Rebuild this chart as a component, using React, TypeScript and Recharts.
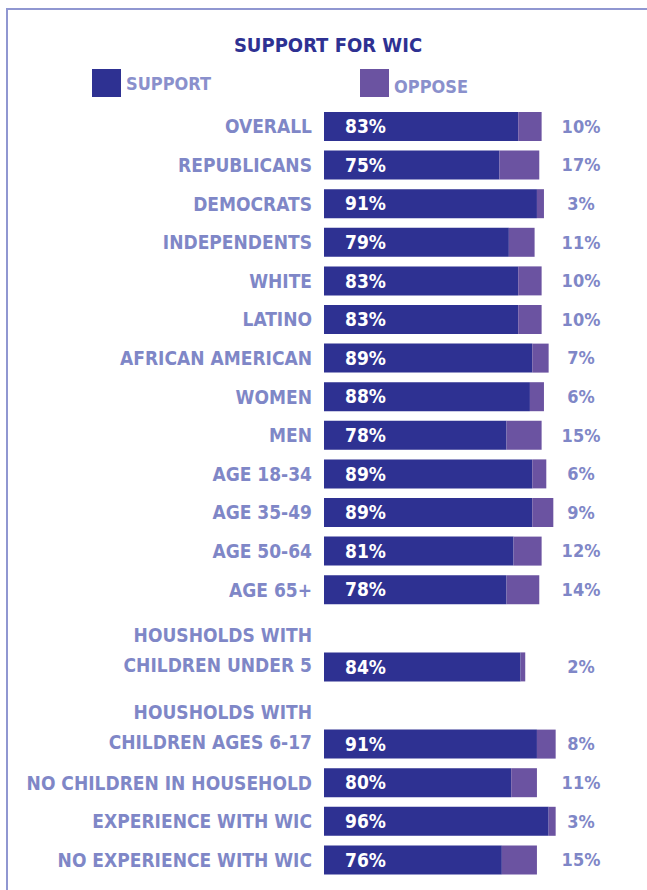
import React from "react";
import { BarChart, Bar, XAxis, YAxis, LabelList, Legend } from "recharts";

const categories = [
  "OVERALL",
  "REPUBLICANS",
  "DEMOCRATS",
  "INDEPENDENTS",
  "WHITE",
  "LATINO",
  "AFRICAN AMERICAN",
  "WOMEN",
  "MEN",
  "AGE 18-34",
  "AGE 35-49",
  "AGE 50-64",
  "AGE 65+",
  "HOUSHOLDS WITH\nCHILDREN UNDER 5",
  "HOUSHOLDS WITH\nCHILDREN AGES 6-17",
  "NO CHILDREN IN HOUSEHOLD",
  "EXPERIENCE WITH WIC",
  "NO EXPERIENCE WITH WIC",
];
const support = [83, 75, 91, 79, 83, 83, 89, 88, 78, 89, 89, 81, 78, 84, 91, 80, 96, 76];
const oppose = [10, 17, 3, 11, 10, 10, 7, 6, 15, 6, 9, 12, 14, 2, 8, 11, 3, 15];

const NAVY = "#2e3192";
const PURPLE = "#6b53a1";
const LABEL = "#7f87c7";
const FONT = "'DejaVu Sans Condensed', sans-serif";

// two-line rows get an empty row above them for room
const data: { label: string; support: number | null; oppose: number | null }[] = [];
categories.forEach((c, i) => {
  if (c.includes("\n")) data.push({ label: " ".repeat(data.length), support: null, oppose: null });
  data.push({ label: c, support: support[i], oppose: oppose[i] });
});

function CategoryTick({ x, y, payload }: any) {
  const lines = String(payload.value).trim() ? String(payload.value).split("\n") : [];
  const offsets = lines.length > 1 ? [-32, -2] : [0];
  return (
    <g>
      {lines.map((l, i) => (
        <text
          key={i}
          x={x}
          y={y + offsets[i]}
          textAnchor="end"
          dominantBaseline="central"
          fill={LABEL}
          fontFamily={FONT}
          fontWeight="bold"
          fontSize={19}
        >
          {l}
        </text>
      ))}
    </g>
  );
}

function OpposeTick({ x, y, index }: any) {
  const v = data[index]?.oppose;
  if (v == null) return null;
  return (
    <text
      x={x + 17}
      y={y}
      textAnchor="middle"
      dominantBaseline="central"
      fill={LABEL}
      fontFamily={FONT}
      fontWeight="bold"
      fontSize={18}
    >
      {v}%
    </text>
  );
}

function LegendContent() {
  const item = (color: string, label: string, left: number, dy: number) => (
    <div style={{ position: "absolute", left, top: 0, display: "flex" }}>
      <div style={{ width: 29, height: 28, background: color }} />
      <span
        style={{
          marginLeft: 5,
          marginTop: 5 + dy,
          color: "#8a90cc",
          fontFamily: FONT,
          fontWeight: "bold",
          fontSize: 18,
          lineHeight: "20px",
        }}
      >
        {label}
      </span>
    </div>
  );
  return (
    <div style={{ position: "relative", width: 647, height: 30 }}>
      {item(NAVY, "SUPPORT", 92, 0)}
      {item(PURPLE, "OPPOSE", 360, 3)}
    </div>
  );
}

export default function App() {
  return (
    <div style={{ position: "absolute", left: 0, top: 0, width: 647, height: 890, background: "#fff" }}>
      <div
        style={{
          position: "absolute",
          left: 6,
          top: 8,
          right: 0,
          bottom: 0,
          borderTop: "2px solid #9097d1",
          borderLeft: "2px solid #9097d1",
        }}
      />
      <div
        style={{
          position: "absolute",
          left: 0,
          top: 33,
          width: 656,
          textAlign: "center",
          color: NAVY,
          fontFamily: FONT,
          fontWeight: "bold",
          fontSize: 20,
          lineHeight: "24px",
        }}
      >
        SUPPORT FOR WIC
      </div>
      <BarChart
        width={647}
        height={890}
        data={data}
        layout="vertical"
        barSize={29}
        margin={{ top: 77, right: 0, bottom: 11, left: 0 }}
        style={{ position: "absolute", left: 0, top: 0 }}
      >
        <XAxis type="number" domain={[0, 100]} hide />
        <YAxis
          yAxisId="left"
          type="category"
          dataKey="label"
          width={324}
          tickLine={false}
          axisLine={false}
          tickMargin={6}
          interval={0}
          tick={<CategoryTick />}
        />
        <YAxis
          yAxisId="right"
          orientation="right"
          type="category"
          dataKey="label"
          width={89}
          tickLine={false}
          axisLine={false}
          tickMargin={0}
          interval={0}
          tick={<OpposeTick />}
        />
        <Legend
          verticalAlign="top"
          content={<LegendContent />}
          wrapperStyle={{ position: "absolute", left: 0, top: 69, width: 647 }}
        />
        <Bar yAxisId="left" dataKey="support" name="SUPPORT" stackId="a" fill={NAVY} isAnimationActive={false}>
          <LabelList
            dataKey="support"
            position="insideLeft"
            offset={21}
            fill="#fff"
            fontFamily={FONT}
            fontWeight="bold"
            fontSize={19}
            formatter={(v: any) => (v == null ? "" : `${v}%`)}
          />
        </Bar>
        <Bar yAxisId="left" dataKey="oppose" name="OPPOSE" stackId="a" fill={PURPLE} isAnimationActive={false} />
      </BarChart>
    </div>
  );
}
